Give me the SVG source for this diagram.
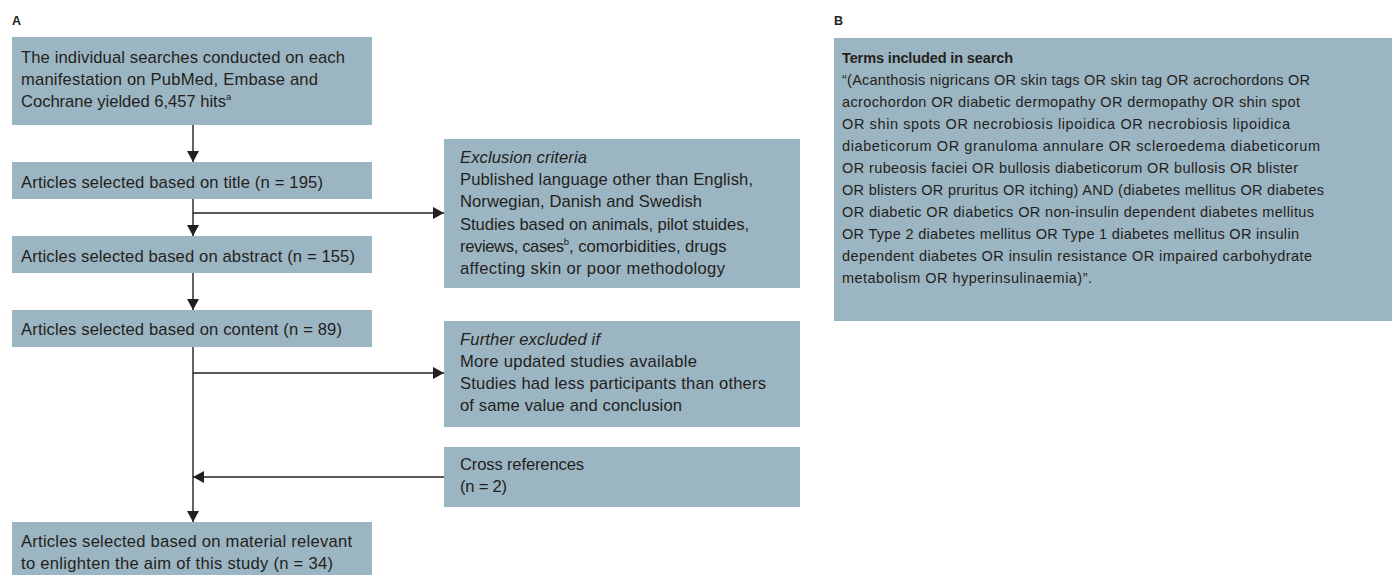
<svg xmlns="http://www.w3.org/2000/svg" width="1397" height="575" viewBox="0 0 1397 575">
<style>
.box{fill:#9cb5c2}
.t{font-family:"Liberation Sans",Arial,sans-serif;font-size:16.6px;fill:#231f20}
.tb{font-family:"Liberation Sans",Arial,sans-serif;font-size:14.5px;fill:#231f20}
.it{font-style:italic}
.b{font-weight:bold}
.lbl{font-family:"Liberation Sans",Arial,sans-serif;font-size:12.5px;font-weight:bold;fill:#231f20}
.ln{stroke:#231f20;stroke-width:1.4;fill:none}
.sup{font-size:9.5px}
</style>
<defs>
<marker id="ah" viewBox="0 0 11 12" refX="11" refY="6" markerWidth="11" markerHeight="12" markerUnits="userSpaceOnUse" orient="auto">
<path d="M0,0 L11,6 L0,12 Z" fill="#231f20"/>
</marker>
</defs>
<text class="lbl" x="12" y="25">A</text>
<text class="lbl" x="834" y="25">B</text>

<g id="connectors">
<line class="ln" x1="193" y1="125" x2="193" y2="162" marker-end="url(#ah)"/>
<line class="ln" x1="193" y1="199" x2="193" y2="236" marker-end="url(#ah)"/>
<line class="ln" x1="193" y1="213" x2="444" y2="213" marker-end="url(#ah)"/>
<line class="ln" x1="193" y1="273" x2="193" y2="310" marker-end="url(#ah)"/>
<line class="ln" x1="193" y1="347" x2="193" y2="522" marker-end="url(#ah)"/>
<line class="ln" x1="193" y1="373" x2="444" y2="373" marker-end="url(#ah)"/>
<line class="ln" x1="444" y1="477" x2="193" y2="477" marker-end="url(#ah)"/>
</g>

<g id="search">
<rect class="box" x="12" y="37" width="360" height="88"/>
<text class="t"><tspan x="21" y="63" textLength="324">The individual searches conducted on each</tspan><tspan x="21" y="85" textLength="297">manifestation on PubMed, Embase and</tspan><tspan x="21" y="107" textLength="205">Cochrane yielded 6,457 hits</tspan><tspan class="sup" dy="-7">a</tspan></text>
</g>

<g id="title">
<rect class="box" x="12" y="162" width="360" height="37"/>
<text class="t" x="21" y="188" textLength="302">Articles selected based on title (n = 195)</text>
</g>

<g id="abstract">
<rect class="box" x="12" y="236" width="360" height="37"/>
<text class="t" x="21" y="262" textLength="334">Articles selected based on abstract (n = 155)</text>
</g>

<g id="content">
<rect class="box" x="12" y="310" width="360" height="37"/>
<text class="t" x="21" y="335" textLength="321">Articles selected based on content (n = 89)</text>
</g>

<g id="final">
<rect class="box" x="12" y="522" width="360" height="54"/>
<text class="t"><tspan x="21" y="547" textLength="331">Articles selected based on material relevant</tspan><tspan x="21" y="569" textLength="312">to enlighten the aim of this study (n = 34)</tspan></text>
</g>

<g id="exclusion">
<rect class="box" x="444" y="139" width="356" height="149"/>
<text class="t"><tspan class="it" x="460" y="163" textLength="127">Exclusion criteria</tspan><tspan x="460" y="185" textLength="293">Published language other than English,</tspan><tspan x="460" y="207" textLength="242">Norwegian, Danish and Swedish</tspan><tspan x="460" y="230" textLength="289">Studies based on animals, pilot stuides,</tspan><tspan x="460" y="252" textLength="104">reviews, cases</tspan><tspan class="sup" dy="-7">b</tspan><tspan dy="7">, comorbidities, drugs</tspan><tspan x="460" y="274" textLength="265">affecting skin or poor methodology</tspan></text>
</g>

<g id="further">
<rect class="box" x="444" y="321" width="356" height="106"/>
<text class="t"><tspan class="it" x="460" y="345" textLength="140">Further excluded if</tspan><tspan x="460" y="367" textLength="237">More updated studies available</tspan><tspan x="460" y="389" textLength="306">Studies had less participants than others</tspan><tspan x="460" y="411" textLength="222">of same value and conclusion</tspan></text>
</g>

<g id="crossref">
<rect class="box" x="444" y="447" width="356" height="60"/>
<text class="t"><tspan x="460" y="470" textLength="124">Cross references</tspan><tspan x="460" y="492" textLength="47">(n = 2)</tspan></text>
</g>

<g id="terms">
<rect class="box" x="834" y="38" width="558" height="283"/>
<text class="tb"><tspan class="b" x="842" y="63" textLength="171">Terms included in search</tspan><tspan x="842" y="85" textLength="468">“(Acanthosis nigricans OR skin tags OR skin tag OR acrochordons OR</tspan><tspan x="842" y="107" textLength="458">acrochordon OR diabetic dermopathy OR dermopathy OR shin spot</tspan><tspan x="842" y="129" textLength="448">OR shin spots OR necrobiosis lipoidica OR necrobiosis lipoidica</tspan><tspan x="842" y="151" textLength="478">diabeticorum OR granuloma annulare OR scleroedema diabeticorum</tspan><tspan x="842" y="173" textLength="456">OR rubeosis faciei OR bullosis diabeticorum OR bullosis OR blister</tspan><tspan x="842" y="195" textLength="482">OR blisters OR pruritus OR itching) AND (diabetes mellitus OR diabetes</tspan><tspan x="842" y="217" textLength="472">OR diabetic OR diabetics OR non-insulin dependent diabetes mellitus</tspan><tspan x="842" y="239" textLength="457">OR Type 2 diabetes mellitus OR Type 1 diabetes mellitus OR insulin</tspan><tspan x="842" y="261" textLength="470">dependent diabetes OR insulin resistance OR impaired carbohydrate</tspan><tspan x="842" y="283" textLength="250">metabolism OR hyperinsulinaemia)”.</tspan></text>
</g>
</svg>
